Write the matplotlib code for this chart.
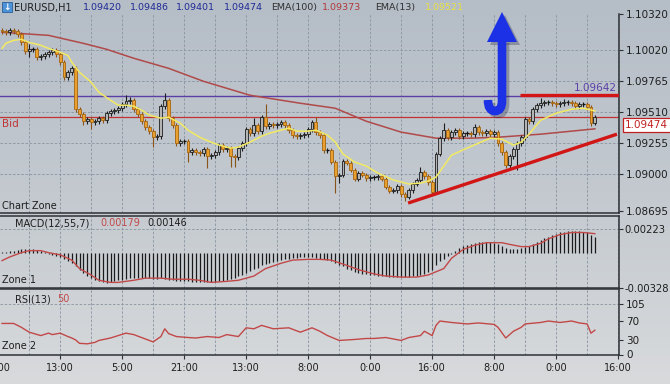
import numpy as np
import matplotlib
matplotlib.use('Agg')
import matplotlib.pyplot as plt
from matplotlib.colors import LinearSegmentedColormap
from matplotlib.path import Path
from matplotlib.patches import PathPatch, Polygon, Rectangle

PIP = 0.0001

# EURUSD H1 closes (one per candle)
closes = [
    1.10177, 1.10169, 1.10185, 1.10177, 1.10152, 1.10086, 1.10012, 1.10029, 1.10029, 1.09963, 1.09971, 1.09988, 1.10004, 1.10020, 1.09988, 1.09922,
    1.09798, 1.09839, 1.09872, 1.09535, 1.09494, 1.09436, 1.09453, 1.09428, 1.09436, 1.09461, 1.09444, 1.09502, 1.09518, 1.09527, 1.09543, 1.09576,
    1.09601, 1.09609, 1.09535, 1.09494, 1.09436, 1.09387, 1.09354, 1.09304, 1.09313, 1.09560, 1.09609, 1.09461, 1.09403, 1.09255, 1.09272, 1.09272,
    1.09181, 1.09197, 1.09181, 1.09173, 1.09206, 1.09148, 1.09156, 1.09181, 1.09239, 1.09206, 1.09214, 1.09148, 1.09140, 1.09214, 1.09255, 1.09370,
    1.09337, 1.09403, 1.09354, 1.09469, 1.09395, 1.09411, 1.09403, 1.09411, 1.09428, 1.09403, 1.09362, 1.09321, 1.09313, 1.09321, 1.09329, 1.09370,
    1.09428, 1.09346, 1.09321, 1.09197, 1.09197, 1.09099, 1.08983, 1.08992, 1.09107, 1.09091, 1.09033, 1.08959, 1.09008, 1.08992, 1.08967, 1.08975,
    1.08975, 1.08983, 1.08959, 1.08893, 1.08860, 1.08868, 1.08901, 1.08835, 1.08811, 1.08868, 1.08918, 1.08951, 1.09016, 1.08983, 1.08934, 1.08852,
    1.09165, 1.09296, 1.09362, 1.09304, 1.09346, 1.09362, 1.09313, 1.09337, 1.09337, 1.09329, 1.09387, 1.09346, 1.09337, 1.09354, 1.09329, 1.09346,
    1.09255, 1.09181, 1.09074, 1.09148, 1.09206, 1.09255, 1.09304, 1.09453, 1.09436, 1.09535, 1.09568, 1.09584, 1.09593, 1.09593, 1.09584, 1.09576,
    1.09584, 1.09593, 1.09593, 1.09584, 1.09560, 1.09576, 1.09576, 1.09551, 1.09420, 1.09474,
]
first_open = 1.10185

# wick lengths above / below the body, in pips
wick_up = [
    2, 2, 2, 2, 2, 2, 2, 4, 2, 2, 2, 2, 2, 2, 2, 2,
    2, 2, 2, 2, 2, 2, 2, 2, 2, 2, 2, 2, 2, 2, 2, 2,
    5, 3, 2, 2, 2, 2, 2, 2, 2, 2, 6, 2, 2, 2, 2, 2,
    2, 2, 2, 2, 2, 2, 2, 2, 2, 2, 2, 2, 2, 2, 2, 2,
    2, 6, 2, 2, 11, 2, 2, 2, 2, 2, 2, 2, 2, 2, 2, 2,
    2, 4, 2, 2, 2, 2, 2, 2, 2, 2, 2, 2, 2, 2, 2, 2,
    2, 2, 2, 2, 2, 2, 2, 2, 2, 2, 2, 2, 4, 2, 2, 2,
    2, 2, 6, 2, 2, 2, 2, 2, 2, 2, 3, 2, 2, 2, 2, 2,
    2, 2, 2, 2, 2, 2, 2, 2, 2, 2, 2, 4, 2, 2, 2, 2,
    2, 3, 2, 2, 2, 2, 2, 2, 2, 1.2,
]
wick_dn = [
    2, 2, 2, 2, 2, 2, 2, 5, 2, 2, 2, 2, 2, 2, 2, 2,
    2, 2, 2, 2, 2, 3, 2, 6, 2, 2, 2, 2, 2, 2, 2, 2,
    2, 2, 2, 2, 2, 2, 2, 8, 2, 2, 2, 2, 2, 2, 2, 2,
    8, 2, 2, 2, 2, 10, 2, 2, 2, 2, 2, 9, 8, 2, 2, 2,
    2, 2, 2, 2, 2, 2, 2, 2, 2, 2, 2, 2, 2, 2, 2, 2,
    2, 2, 2, 2, 2, 2, 14, 6, 2, 2, 2, 2, 2, 2, 2, 2,
    2, 2, 2, 2, 2, 2, 2, 2, 3, 2, 2, 2, 2, 2, 2, 2,
    2, 2, 2, 2, 2, 2, 2, 2, 2, 2, 2, 2, 2, 2, 2, 2,
    2, 2, 2, 2, 2, 17, 2, 2, 2, 2, 2, 2, 2, 2, 2, 2,
    2, 2, 2, 2, 2, 2, 2, 2, 2, 1.9,
]

# moving averages (sampled along the lines)
ema13_idx = [0, 1, 3, 5, 7, 10, 12, 15, 17, 18, 20, 23, 25, 28, 30, 32, 34, 36, 38, 41,
             43, 46, 48, 51, 54, 56, 59, 61, 64, 67, 69, 72, 74, 76, 79, 81, 84, 86, 88, 91,
             94, 97, 101, 105, 108, 110, 112, 114, 116, 120, 123, 126, 129, 132, 134, 136, 139, 143, 147, 150, 153]
ema13_val = [1.10037, 1.10078, 1.10103, 1.10111, 1.10086, 1.10062, 1.10037, 1.10004, 1.09979, 1.09922,
             1.09839, 1.09757, 1.09675, 1.09609, 1.09568, 1.09568, 1.09560, 1.09527, 1.09486, 1.09461,
             1.09469, 1.09420, 1.09362, 1.09304, 1.09263, 1.09239, 1.09214, 1.09222, 1.09263, 1.09313,
             1.09337, 1.09362, 1.09379, 1.09354, 1.09354, 1.09362, 1.09321, 1.09263, 1.09165, 1.09099,
             1.09066, 1.09008, 1.08951, 1.08918, 1.08926, 1.08942, 1.08975, 1.09066, 1.09156, 1.09214,
             1.09255, 1.09296, 1.09288, 1.09239, 1.09263, 1.09329, 1.09444, 1.09502, 1.09535, 1.09543, 1.09521]
ema100_idx = [0, 12, 21, 27, 34, 43, 52, 64, 77, 86, 94, 103, 112, 121, 128, 139, 147, 153]
ema100_val = [1.10169, 1.10144, 1.10078, 1.10029, 1.09955, 1.09872, 1.09765, 1.09650, 1.09584,
              1.09543, 1.09436, 1.09346, 1.09296, 1.09296, 1.09304, 1.09329, 1.09354, 1.09373]

# MACD(12,55,7) histogram, one per candle
macd_hist = [
    0.00008, 0.0001, 0.00015, 0.0002, 0.00025, 0.0003, 0.00032, 0.00032, 0.0003, 0.00022, 0.00012, 0.00002, -0.0001, -0.0002, -0.0003, -0.0004,
    -0.0006, -0.0008, -0.001, -0.0013, -0.0016, -0.0019, -0.0022, -0.0024, -0.0026, -0.0027, -0.0028, -0.0029, -0.0028, -0.0027, -0.0026, -0.0026,
    -0.0025, -0.0024, -0.0024, -0.0024, -0.0024, -0.0024, -0.0024, -0.0025, -0.0025, -0.0024, -0.0025, -0.0026, -0.0026, -0.0027, -0.0027, -0.0027,
    -0.0027, -0.0028, -0.0028, -0.0028, -0.0028, -0.0028, -0.0028, -0.0028, -0.0027, -0.0027, -0.0026, -0.0025, -0.0024, -0.0022, -0.0021, -0.0019,
    -0.0017, -0.00155, -0.0014, -0.0012, -0.0011, -0.00095, -0.00085, -0.00075, -0.00065, -0.0006, -0.00055, -0.0005, -0.00048, -0.00045, -0.00045, -0.00045,
    -0.00045, -0.0005, -0.00055, -0.0006, -0.0007, -0.0008, -0.001, -0.0012, -0.0013, -0.0015, -0.0016, -0.0018, -0.0019, -0.002, -0.002, -0.0021,
    -0.0021, -0.0022, -0.0022, -0.0022, -0.0023, -0.0023, -0.0023, -0.0023, -0.0023, -0.0023, -0.0022, -0.0022, -0.0021, -0.002, -0.0018, -0.0016,
    -0.0012, -0.0008, -0.0006, -0.0003, -0.0001, 0.0002, 0.0004, 0.0006, 0.0007, 0.0008, 0.0009, 0.001, 0.001, 0.001, 0.001, 0.0009,
    0.0008, 0.0006, 0.0004, 0.0003, 0.0003, 0.0003, 0.0004, 0.0005, 0.0006, 0.0008, 0.001, 0.0012, 0.0014, 0.0015, 0.0017, 0.0018,
    0.0019, 0.00195, 0.002, 0.002, 0.002, 0.002, 0.00195, 0.0019, 0.0017, 0.00146,
]
sig_idx = [0, 2, 5, 7, 10, 12, 15, 18, 20, 23, 25, 28, 30, 34, 37, 41, 44, 48, 51, 54,
           58, 61, 65, 68, 72, 75, 79, 82, 85, 89, 92, 96, 99, 103, 107, 110, 114, 116, 119, 122,
           125, 129, 131, 134, 136, 139, 141, 144, 147, 150, 153]
sig_val = [-0.00075, -0.0004, 0.0, 0.00019, 0.00019, 0.0, -0.0002, -0.0007, -0.0015, -0.0021,
           -0.0026, -0.0028, -0.0028, -0.0026, -0.0024, -0.0024, -0.0025, -0.0025, -0.0026, -0.0028,
           -0.0027, -0.0026, -0.0022, -0.0015, -0.001, -0.0007, -0.00063, -0.00063, -0.0007, -0.0012,
           -0.0016, -0.002, -0.0022, -0.0023, -0.0023, -0.0021, -0.0015, -0.00053, 0.0003, 0.0007,
           0.00094, 0.00094, 0.00078, 0.00057, 0.00057, 0.00088, 0.0013, 0.0017, 0.0019, 0.0019, 0.00179]

# RSI(13)
rsi_idx = [0, 3, 5, 7, 10, 12, 13, 15, 17, 18, 19, 20, 22, 24, 25, 28, 30, 32, 34, 36,
           39, 41, 42, 43, 45, 48, 50, 53, 56, 58, 61, 63, 65, 67, 70, 74, 77, 80, 82, 84,
           87, 91, 94, 96, 99, 103, 105, 108, 109, 111, 112, 113, 116, 120, 123, 127, 128, 130, 132, 134,
           135, 139, 141, 144, 147, 149, 151, 152, 153]
rsi_val = [64, 64, 56, 46, 39, 44, 41, 44, 37, 34, 30, 23, 22, 25, 29, 34, 39, 44, 41, 35,
           26, 37, 53, 43, 37, 35, 34, 37, 35, 41, 37, 55, 53, 60, 53, 55, 46, 55, 48, 39,
           29, 31, 33, 33, 35, 29, 35, 39, 48, 39, 60, 69, 66, 63, 65, 62, 56, 34, 48, 56,
           63, 66, 69, 66, 69, 65, 63, 44, 50]

# levels and drawn objects
level_high = 1.09642
bid = 1.09474
support_idx = [104.8, 158.7]
support_px = [1.08761, 1.09329]
resist_idx = [133.7, 159.5]
resist_px = [1.09650, 1.09650]

price_ticks = [1.10320, 1.10020, 1.09765, 1.09510, 1.09255, 1.09000, 1.08695]
macd_ticks = [0.00223, -0.00328]
rsi_ticks = [0, 30, 70, 105]
time_pos = [15, 31, 47, 63, 79, 95, 111, 127, 143, 159]
time_lbl = ['13:00', '5:00', '21:00', '13:00', '8:00', '0:00', '16:00', '8:00', '0:00', '16:00']

# ---------------------------------------------------------------
W, H = 670, 384
fig = plt.figure(figsize=(W / 100, H / 100), dpi=100)


def box(x0, y0, x1, y1):
    return [x0 / W, 1 - y1 / H, (x1 - x0) / W, (y1 - y0) / H]


bg = fig.add_axes([0, 0, 1, 1], zorder=-10)
cmap = LinearSegmentedColormap.from_list('bg', ['#b5bdc7', '#c3c9cf', '#d8dadc'])
bg.imshow(np.linspace(0, 1, 256).reshape(-1, 1), aspect='auto', cmap=cmap, extent=[0, 1, 0, 1])
bg.axis('off')

XL = (-0.52, 159.23)
GRID = dict(color='#8894a1', lw=0.6, ls=(0, (3, 2)), zorder=1)
SPINE = '#2e3236'
TXT = '#1e1e1e'
plt.rcParams['font.family'] = 'DejaVu Sans'

ax = fig.add_axes(box(0, 14, 619, 213))
ax1 = fig.add_axes(box(0, 216, 619, 287.5))
ax2 = fig.add_axes(box(0, 288.5, 619, 354.5))

for a in (ax, ax1, ax2):
    a.set_facecolor('none')
    a.set_xlim(*XL)
    a.spines['left'].set_visible(False)
    for s in ('top', 'bottom', 'right'):
        a.spines[s].set_color(SPINE)
        a.spines[s].set_linewidth(1.1)
    a.yaxis.tick_right()
    a.tick_params(axis='y', direction='out', length=3, width=0.8, pad=2,
                  labelsize=7.5, colors=SPINE, labelcolor=TXT)
    for g in range(7, 160, 8):
        a.axvline(g, **GRID)
ax.spines['top'].set_visible(False)

# ---- main price panel
ax.set_ylim(1.08679, 1.10317)
ax.set_yticks(price_ticks)
ax.set_yticklabels([f'{p:.5f}' for p in price_ticks])
ax.set_xticks([])
for p in price_ticks[1:-1]:
    ax.axhline(p, **GRID)

c = np.array(closes)
o = np.r_[first_open, c[:-1]]
hi = np.maximum(o, c) + np.array(wick_up) * PIP
lo = np.minimum(o, c) - np.array(wick_dn) * PIP
idx = np.arange(len(c))
bull = c >= o
body = np.abs(c - o)
doji = body < 0.00005

ax.vlines(idx[bull], lo[bull], hi[bull], colors='#1c1c1c', lw=0.8, zorder=3)
ax.vlines(idx[~bull], lo[~bull], hi[~bull], colors='#8a5418', lw=0.8, zorder=3)
m = bull & ~doji
ax.bar(idx[m], body[m], bottom=np.minimum(o, c)[m], width=0.72,
       color='#b4b4b4', edgecolor='#1c1c1c', linewidth=0.6, zorder=4)
m = ~bull & ~doji
ax.bar(idx[m], body[m], bottom=np.minimum(o, c)[m], width=0.72,
       color='#e9a02e', edgecolor='#a5650f', linewidth=0.6, zorder=4)
ax.hlines(c[doji], idx[doji] - 0.4, idx[doji] + 0.4, colors='#111111', lw=1.0, zorder=4)

ax.plot(ema100_idx, ema100_val, color='#b04a4a', lw=1.1, zorder=2.5)
ax.plot(ema13_idx, ema13_val, color='#f2ea62', lw=1.1, zorder=5)

ax.axhline(level_high, color='#5b3fa6', lw=1.0, zorder=1.5)
ax.axhline(bid, color='#c23434', lw=0.9, zorder=1.5)
ax.plot(support_idx, support_px, color='#d21616', lw=2.4, solid_capstyle='butt', zorder=6)
ax.plot(resist_idx, resist_px, color='#d21616', lw=2.4, solid_capstyle='butt', zorder=6)

ax.annotate(f'{level_high:.5f}', xy=(158.6, level_high), xytext=(0, 2.5),
            textcoords='offset points', ha='right', va='bottom',
            fontsize=7.5, color='#5b3fa6', zorder=7)
ax.annotate('Bid', xy=(0.004, bid), xycoords=('axes fraction', 'data'), xytext=(0, -2),
            textcoords='offset points', ha='left', va='top', fontsize=7.5, color='#c23434')
ax.annotate(f'{bid:.5f}', xy=(1.0, bid), xycoords=('axes fraction', 'data'), xytext=(4.5, -6.2),
            textcoords='offset points', ha='left', va='center', fontsize=7.5, color='#c02020',
            bbox=dict(boxstyle='square,pad=0.22', fc='white', ec='#c02020', lw=0.9),
            annotation_clip=False, zorder=8)
ax.text(0.003, 0.012, 'Chart Zone', transform=ax.transAxes, fontsize=7, color=TXT,
        ha='left', va='bottom')

# ---- MACD panel
ax1.set_ylim(-0.00328, 0.003453)
ax1.set_yticks(macd_ticks)
ax1.set_yticklabels([f'{v:.5f}' for v in macd_ticks])
ax1.tick_params(axis='y', pad=1, labelsize=7.2)
ax1.set_xticks([])
ax1.axhline(macd_ticks[0], **GRID)
ax1.vlines(idx, 0, macd_hist, colors='#1a1a1a', lw=0.9, zorder=3)
ax1.plot(sig_idx, sig_val, color='#c24848', lw=1.0, zorder=4)
ax1.text(15 / 619, 0.9, 'MACD(12,55,7)', transform=ax1.transAxes, fontsize=7, color=TXT, va='center')
ax1.text(100 / 619, 0.9, '0.00179', transform=ax1.transAxes, fontsize=7, color='#c24848', va='center')
ax1.text(147 / 619, 0.9, '0.00146', transform=ax1.transAxes, fontsize=7, color=TXT, va='center')
ax1.text(0.003, 0.1, 'Zone 1', transform=ax1.transAxes, fontsize=7, color=TXT, va='center')

# ---- RSI panel
ax2.set_ylim(0, 136)
ax2.set_yticks(rsi_ticks)
ax2.set_yticklabels([str(v) for v in rsi_ticks])
ax2.axhline(105, **GRID)
ax2.plot(rsi_idx, rsi_val, color='#c24848', lw=1.0, zorder=4)
ax2.set_xticks(time_pos)
ax2.set_xticklabels(time_lbl)
ax2.tick_params(axis='x', direction='out', length=3, width=0.8, pad=3,
                labelsize=7, colors=SPINE, labelcolor=TXT)
ax2.text(15 / 619, 0.84, 'RSI(13)', transform=ax2.transAxes, fontsize=7, color=TXT, va='center')
ax2.text(57 / 619, 0.84, '50', transform=ax2.transAxes, fontsize=7, color='#c24848', va='center')
ax2.text(0.003, 0.13, 'Zone 2', transform=ax2.transAxes, fontsize=7, color=TXT, va='center')

# ---- overlay in pixel coordinates: header and arrow
ov = fig.add_axes([0, 0, 1, 1], zorder=10)
ov.set_xlim(0, W)
ov.set_ylim(H, 0)
ov.axis('off')

ov.add_patch(Rectangle((2, 2), 10, 10, fc='#4d92d6', ec='#2a5f9a', lw=0.6))
ov.text(7, 7.3, '↓', ha='center', va='center', fontsize=6.5, color='white', fontweight='bold')
ov.text(14, 7.5, 'EURUSD,H1', ha='left', va='center', fontsize=7, color=TXT)
for xp, s in zip([83, 130, 176, 224], ['1.09420', '1.09486', '1.09401', '1.09474']):
    ov.text(xp, 7.5, s, ha='left', va='center', fontsize=6.8, color='#1f2b95')
ov.text(271, 7.5, 'EMA(100)', ha='left', va='center', fontsize=6.8, color='#303030')
ov.text(322, 7.5, '1.09373', ha='left', va='center', fontsize=6.8, color='#b03a3a')
ov.text(375, 7.5, 'EMA(13)', ha='left', va='center', fontsize=6.8, color='#303030')
ov.text(425, 7.5, '1.09521', ha='left', va='center', fontsize=6.8, color='#e8e040')
# label of the grid line just left of the plot, mostly outside the picture
ov.text(10, 368, '21:00', ha='right', va='center', fontsize=7, color=TXT)

blue = '#1c30e6'
hook = [(502, 40), (502, 101), (502, 111), (495, 111), (488, 111), (488, 100)]
codes = [Path.MOVETO, Path.LINETO, Path.CURVE3, Path.CURVE3, Path.CURVE3, Path.CURVE3]
head = [(487, 42), (517, 42), (502, 12)]
for dx, col, al in [(3, '#202040', 0.3), (0, blue, 1.0)]:
    pts = [(x + dx, y + dx) for x, y in hook]
    ov.add_patch(PathPatch(Path(pts, codes), fill=False, ec=col, lw=6.2, alpha=al, capstyle='butt'))
    ov.add_patch(Polygon([(x + dx, y + dx) for x, y in head], closed=True, fc=col, ec='none', alpha=al))

fig.savefig('out.png', dpi=100)
